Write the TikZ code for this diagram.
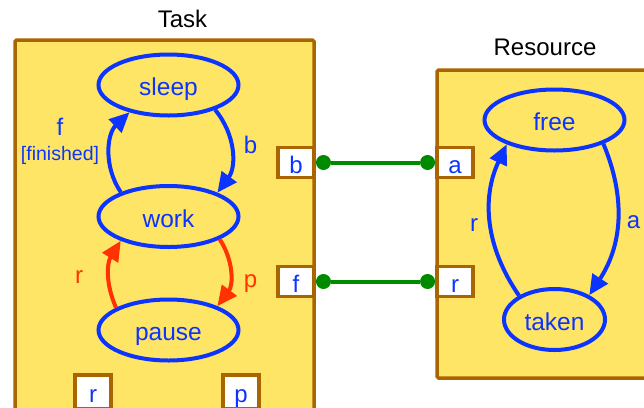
\documentclass[tikz,border=0pt]{standalone}
\usepackage{fontspec}
\setmainfont{Liberation Sans}
\usetikzlibrary{shapes.geometric,arrows.meta,positioning}
\definecolor{boxfill}{RGB}{255,229,102}
\definecolor{boxline}{RGB}{170,100,0}
\definecolor{stblue}{RGB}{12,52,255}
\definecolor{trred}{RGB}{255,50,0}
\definecolor{wiregreen}{RGB}{0,138,0}

\begin{document}
\begin{tikzpicture}[x=1pt,y=-1pt]
\tikzstyle{component}=[draw=boxline,fill=boxfill,line width=3.5pt,rounded corners=1.5pt]
\tikzstyle{state}=[draw=stblue,ellipse,line width=4pt,inner sep=0pt,minimum width=140pt,minimum height=61pt,text=stblue,text height=21pt,text depth=0pt,font=\fontsize{24.5}{28}\selectfont]
\tikzstyle{port}=[draw=boxline,fill=white,line width=3.5pt,inner sep=0pt,minimum width=36pt,minimum height=30pt,text=stblue,text height=21pt,text depth=0pt,font=\fontsize{24}{28}\selectfont]
\tikzstyle{title}=[anchor=base,font=\fontsize{24}{28}\selectfont]
\tikzstyle{trans}=[stblue,line width=4pt,-{Triangle[length=20pt,width=18pt]}]
\tikzstyle{lbl}=[text=stblue,inner sep=0pt,font=\fontsize{24}{28}\selectfont]
\tikzstyle{wire}=[wiregreen,line width=4pt]
\tikzstyle{dot}=[circle,fill=wiregreen,inner sep=0pt,minimum size=15pt]

\useasboundingbox (0,0) rectangle (644,407);

\draw[component] (15,40) rectangle (314,440);
\draw[component] (437,70) rectangle (680,378);

\node[title] (tasktitle) at (182.5,27) {Task};
\node[title] (restitle) at (545,55) {Resource};

\node[state] (sleep) at (168.5,85) {sleep};
\node[state] (work) at (168.5,216.5) {work};
\node[state] (pause) at (168.5,330) {pause};
\node[state] (free) at (554.5,120) {free};
\node[state,minimum width=101pt] (taken) at (554.5,319.5) {taken};

\node[port] (tb) at (296,162.5) {b};
\node[port] (tf) at (296,281.5) {f};
\node[port,minimum height=34pt] (tr) at (93,392) {r};
\node[port,minimum height=34pt] (tp) at (241,392) {p};
\node[port] (ra) at (455,162.5) {a};
\node[port] (rr) at (455,281.5) {r};

\node[dot,right=0pt of tb] (tbdot) {};
\node[dot,right=0pt of tf] (tfdot) {};
\node[dot,left=0pt of ra] (radot) {};
\node[dot,left=0pt of rr] (rrdot) {};
\draw[wire] (tbdot) -- (radot);
\draw[wire] (tfdot) -- (rrdot);

\draw[trans] (sleep.-28) to[bend left=38] (work.26);
\draw[trans] (work.153) to[bend left=40] (sleep.215);
\draw[trans,trred] (work.-24) to[bend left=35] (pause.26);
\draw[trans,trred] (pause.157) to[bend left=28] (work.207);
\draw[trans] (free.-26) to[bend left=28] (taken.35);
\draw[trans] (taken.146) to[bend left=30] (free.207);

\node[lbl] (lb) at (250.5,145) {b};
\node[lbl] (lf) at (60,126.5) {f};
\node[lbl,font=\fontsize{19.5}{22}\selectfont] (lfin) at (60,155) {[finished]};
\node[lbl,text=trred] (lr) at (79,277) {r};
\node[lbl,text=trred] (lp) at (250.5,284) {p};
\node[lbl] (lrr) at (474,225) {r};
\node[lbl] (la) at (633.5,222.5) {a};
\end{tikzpicture}
\end{document}
